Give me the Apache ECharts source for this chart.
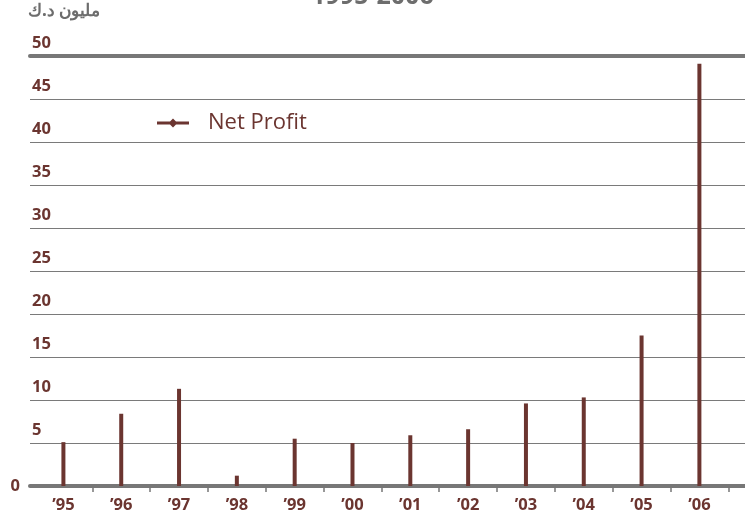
<!DOCTYPE html>
<html><head><meta charset="utf-8">
<script src="https://cdn.jsdelivr.net/npm/echarts@6/dist/echarts.min.js"></script>
<style>html,body{margin:0;padding:0;background:#fff}#c{width:745px;height:518px}</style>
</head><body><div id="c"></div>
<script>
var categories = ["\u201995","\u201996","\u201997","\u201998","\u201999","\u201900","\u201901","\u201902","\u201903","\u201904","\u201905","\u201906"];
var netProfit = [5.1, 8.4, 11.3, 1.2, 5.5, 5.0, 5.9, 6.6, 9.6, 10.3, 17.5, 49.1];
var seriesName = "Net Profit";
var titleText = "1995-2006";
var unitText = "\u0645\u0644\u064a\u0648\u0646 \u062f.\u0643";

var brown = "#6b3530";
var gray = "#777777";
var font = "'Open Sans', 'Noto Sans', sans-serif";
var chart = echarts.init(document.getElementById('c'));
chart.setOption({
  animation: false,
  backgroundColor: '#ffffff',
  title: {
    text: titleText, left: 'center', top: -21,
    textStyle: {color: '#6d6d6d', fontSize: 25, fontWeight: 'bold', fontFamily: font}
  },
  graphic: [{
    type: 'text', left: 28, top: 3,
    style: {text: unitText, fill: '#6d6d6d', font: "bold 17px 'Noto Sans', sans-serif"}
  }],
  legend: {
    data: [seriesName], left: 152, top: 107, itemWidth: 32, itemHeight: 9,
    icon: 'path://M0,3 L13,3 L16,0 L19,3 L32,3 L32,6 L19,6 L16,9 L13,6 L0,6 Z',
    textStyle: {color: brown, fontSize: 22, fontFamily: font, padding: [0, 0, 0, 14]}
  },
  grid: [
    {left: 30, right: 0, top: 56, bottom: 32},
    {left: 34.5, right: 16.7, top: 56, bottom: 32}
  ],
  xAxis: [
    {gridIndex: 0, type: 'value', min: 0, max: 1, position: 'bottom',
     axisLine: {show: true, onZero: false, lineStyle: {color: gray, width: 4}},
     axisTick: {show: false}, axisLabel: {show: false}, splitLine: {show: false}},
    {gridIndex: 0, type: 'value', min: 0, max: 1, position: 'top',
     axisLine: {show: true, onZero: false, lineStyle: {color: gray, width: 4}},
     axisTick: {show: false}, axisLabel: {show: false}, splitLine: {show: false}},
    {gridIndex: 1, type: 'category', data: categories, boundaryGap: true,
     axisLine: {show: false},
     axisTick: {show: true, length: 6, interval: function (i) { return i > 0; }, lineStyle: {color: gray, width: 1.5}},
     axisLabel: {color: brown, fontSize: 16.5, fontWeight: 'bold', fontFamily: font, margin: 11}}
  ],
  yAxis: [
    {gridIndex: 0, type: 'value', min: 0, max: 50, interval: 5,
     axisLine: {show: false}, axisTick: {show: false},
     axisLabel: {inside: true, align: 'left', verticalAlign: 'bottom', margin: 2, padding: [0, 0, 4, 0],
       color: brown, fontSize: 16.5, fontWeight: 'bold', fontFamily: font,
       formatter: function (v) { return v === 0 ? '' : String(v); }},
     splitLine: {show: true, lineStyle: {color: '#7a7a7a', width: 1.2}}},
    {gridIndex: 0, type: 'value', min: 0, max: 50, interval: 5, position: 'left',
     axisLine: {show: false}, axisTick: {show: false}, splitLine: {show: false},
     axisLabel: {align: 'right', margin: 10, color: brown, fontSize: 16.5, fontWeight: 'bold', fontFamily: font,
       formatter: function (v) { return v === 0 ? '0' : ''; }}},
    {gridIndex: 1, type: 'value', min: 0, max: 50, interval: 5, show: false}
  ],
  series: [{
    name: seriesName, type: 'bar', xAxisIndex: 2, yAxisIndex: 2,
    data: netProfit, barWidth: 4, itemStyle: {color: brown}
  }]
});
</script>
</body></html>
